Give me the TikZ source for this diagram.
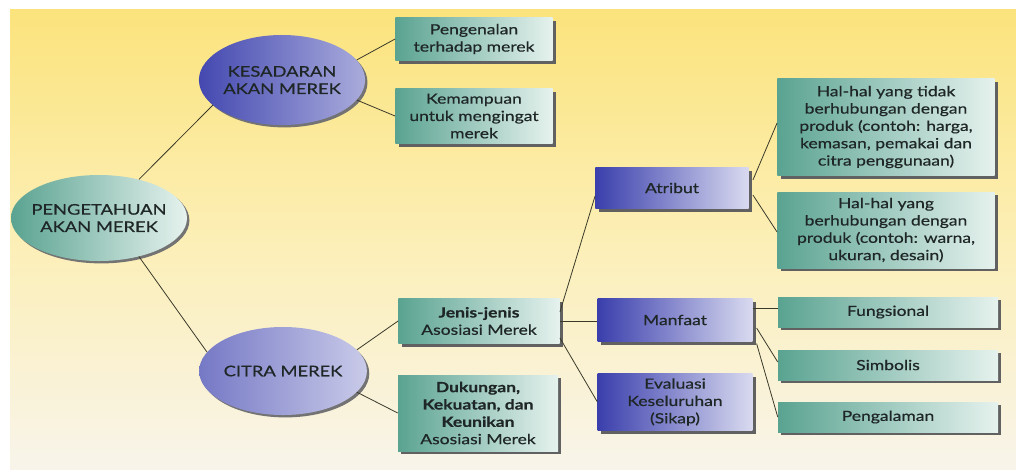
\documentclass[tikz,border=0pt]{standalone}
\usepackage{fontspec}
\setmainfont{Lato}[FakeStretch=1.25,FakeBold=0.5]
\usetikzlibrary{shapes.geometric,shadows,calc}
\definecolor{txt}{HTML}{1E2626}
\definecolor{tealL}{HTML}{5AA391}
\definecolor{tealR}{HTML}{E6F2EE}
\definecolor{blueL}{HTML}{3A3FAC}
\definecolor{blueR}{HTML}{D9DAF0}
\definecolor{bgTop}{HTML}{FBE37C}
\definecolor{bgMid}{HTML}{FCEFB6}
\definecolor{bgBot}{HTML}{F8F4EA}
\definecolor{lineC}{HTML}{3A3A2A}
\tikzset{
  shd/.style={drop shadow={shadow xshift=2.6pt,shadow yshift=-2.6pt,fill=black!62,opacity=1}},
  esh/.style={drop shadow={shadow xshift=1.8pt,shadow yshift=-1.8pt,fill=black!55,opacity=1}},
  tbox/.style={rectangle,shd,left color=tealL,right color=tealR,text=txt,align=center,
     inner sep=2pt,font=\fontsize{10.5}{13}\selectfont},
  bbox/.style={rectangle,shd,left color=blueL,right color=blueR,text=txt,align=center,
     inner sep=2pt,font=\fontsize{10.5}{13}\selectfont},
  ell/.style={ellipse,esh,inner sep=0pt,text=txt,align=center,font=\fontsize{11}{13}\selectfont},
  conn/.style={draw=lineC,line width=0.6pt}
}
\begin{document}
\begin{tikzpicture}[x=0.75pt,y=-0.75pt]
\useasboundingbox (0,0) rectangle (1016,469);
\fill[white] (0,0) rectangle (1016,469);
\shade[top color=bgTop,bottom color=bgBot,middle color=bgMid] (10,9) rectangle (1016,469);

% ellipses
\node[ell,minimum width=123pt,minimum height=67.5pt,shading angle=70,left color=blueL!95!white,right color=blueR!70!blueL] (kes) at (282,80) {KESADARAN\\AKAN MEREK};
\node[ell,inner xsep=-9pt,inner ysep=-3pt,minimum width=132pt,minimum height=64.5pt,shading angle=60,left color=tealL,right color=tealR] (peng) at (99,218) {PENGETAHUAN\\AKAN MEREK};
\node[ell,minimum width=120pt,minimum height=66pt,shading angle=60,left color=blueL!70!white,right color=blueR!90!blueL] (citra) at (283,371) {CITRA MEREK};

% boxes
\node[tbox,minimum width=118pt,minimum height=32pt] (pengenalan) at (474,39) {Pengenalan\\terhadap merek};
\node[tbox,minimum width=118pt,minimum height=41pt] (kemampuan) at (474,116) {Kemampuan\\untuk mengingat\\merek};
\node[bbox,minimum width=115pt,minimum height=31pt] (atribut) at (672,188) {Atribut};
\node[tbox,minimum width=163pt,minimum height=73pt] (tidak) at (886,127) {Hal-hal yang tidak\\berhubungan dengan\\produk (contoh: harga,\\kemasan, pemakai dan\\citra penggunaan)};
\node[tbox,minimum width=163pt,minimum height=57pt] (berhub) at (886,230) {Hal-hal yang\\berhubungan dengan\\produk (contoh: warna,\\ukuran, desain)};
\node[tbox,minimum width=121pt,minimum height=34pt] (jenis) at (479,321) {\textbf{Jenis-jenis}\\Asosiasi Merek};
\node[tbox,minimum width=120pt,minimum height=57pt] (dukungan) at (478,413) {\textbf{Dukungan,}\\\textbf{Kekuatan, dan}\\\textbf{Keunikan}\\Asosiasi Merek};
\node[bbox,minimum width=116pt,minimum height=32pt] (manfaat) at (675,320) {Manfaat};
\node[bbox,minimum width=116pt,minimum height=43pt] (evaluasi) at (675,402) {Evaluasi\\Keseluruhan\\(Sikap)};
\node[tbox,minimum width=165pt,minimum height=22.5pt] (fungsional) at (888,312) {Fungsional};
\node[tbox,minimum width=165pt,minimum height=22.5pt] (simbolis) at (888,365) {Simbolis};
\node[tbox,minimum width=165pt,minimum height=22.5pt] (pengalaman) at (888,417) {Pengalaman};

% connectors
\draw[conn] (peng.44) -- (kes.200);
\draw[conn] (peng.-44) -- (citra.166);
\draw[conn] (kes.15) -- (pengenalan.west);
\draw[conn] (kes.-15) -- (kemampuan.west);
\draw[conn] (citra.16) -- (jenis.west);
\draw[conn] (citra.-16) -- (dukungan.west);
\draw[conn] ($(jenis.east)+(0,-9)$) -- ($(atribut.west)+(0,8)$);
\draw[conn] (jenis.east) -- (manfaat.west |- jenis.east);
\draw[conn] ($(jenis.east)+(0,17)$) -- (evaluasi.west);
\draw[conn] ($(atribut.east)+(4,-8)$) -- ($(tidak.west)+(0,-4)$);
\draw[conn] ($(atribut.east)+(4,7)$) -- ($(berhub.west)+(0,2)$);
\draw[conn] ($(manfaat.east)+(0,-12)$) -- ($(fungsional.west)+(0,-4)$);
\draw[conn] ($(manfaat.east)+(4,8)$) -- ($(simbolis.west)+(0,-3)$);
\draw[conn] ($(manfaat.south east)+(4,2)$) -- (pengalaman.west);
\end{tikzpicture}
\end{document}
